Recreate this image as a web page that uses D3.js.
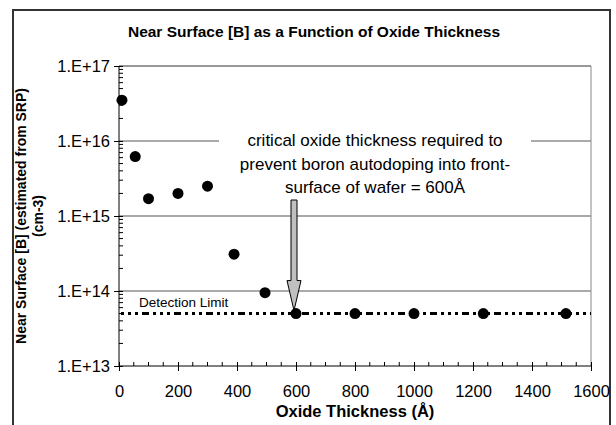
<!DOCTYPE html>
<html>
<head>
<meta charset="utf-8">
<script src="https://cdn.jsdelivr.net/npm/d3@7"></script>
<style>
  body { margin: 0; background: #fff; }
  svg { display: block; font-family: Arial, "Liberation Sans", sans-serif; }
</style>
</head>
<body>
<svg id="chart" width="616" height="425"></svg>
<script>
// data
const thickness = [10, 55, 100, 200, 300, 390, 495, 600, 800, 1000, 1235, 1515];
const boron = [3.5e16, 6.2e15, 1.7e15, 2.0e15, 2.5e15, 3.1e14, 9.5e13, 5e13, 5e13, 5e13, 5e13, 5e13];
const detectionLimit = 5e13;
const criticalThickness = 600;
const xTicks = [0, 200, 400, 600, 800, 1000, 1200, 1400, 1600];
const yTicks = [1e13, 1e14, 1e15, 1e16, 1e17];
const yTickLabels = ["1.E+13", "1.E+14", "1.E+15", "1.E+16", "1.E+17"];
const noteLines = ["critical oxide thickness required to", "prevent boron autodoping into front-", "surface of wafer = 600\u00C5"];

const svg = d3.select("#chart");
const plotL = 119, plotR = 591, plotT = 66, plotB = 366;

// outer frame
svg.append("rect").attr("x", 13).attr("y", 10).attr("width", 597).attr("height", 430)
  .attr("fill", "none").attr("stroke", "#333").attr("stroke-width", 2);

const x = d3.scaleLinear().domain([0, 1600]).range([plotL, plotR]);
const y = d3.scaleLog().domain([1e13, 1e17]).range([plotB, plotT]);

// gridlines
svg.append("g").selectAll("line").data(yTicks.slice(1)).join("line")
  .attr("x1", plotL).attr("x2", plotR)
  .attr("y1", d => y(d)).attr("y2", d => y(d))
  .attr("stroke", "#555").attr("stroke-width", 1);

// plot frame right/top
svg.append("path")
  .attr("d", `M${plotL},${plotT}H${plotR}V${plotB}`)
  .attr("fill", "none").attr("stroke", "#888").attr("stroke-width", 1);

// y axis minor ticks (inside)
const minor = [];
for (let e = 13; e < 17; e++) for (let m = 2; m <= 9; m++) minor.push(m * Math.pow(10, e));
svg.append("g").selectAll("line").data(minor).join("line")
  .attr("x1", plotL).attr("x2", plotL + 4)
  .attr("y1", d => y(d)).attr("y2", d => y(d))
  .attr("stroke", "#000");

// x axis minor ticks (inside)
svg.append("g").selectAll("line").data(d3.range(50, 1600, 50).filter(v => v % 200)).join("line")
  .attr("x1", d => x(d)).attr("x2", d => x(d))
  .attr("y1", plotB).attr("y2", plotB - 4)
  .attr("stroke", "#000");

const yAxis = svg.append("g").attr("transform", `translate(${plotL},0)`)
  .call(d3.axisLeft(y).tickValues(yTicks).tickSize(5).tickPadding(4)
    .tickFormat((d, i) => yTickLabels[i]));
yAxis.selectAll(".tick line").attr("x2", -5).attr("x1", 4);
yAxis.select(".domain").attr("d", `M0,${plotT}V${plotB}`);

const xAxis = svg.append("g").attr("transform", `translate(0,${plotB})`)
  .call(d3.axisBottom(x).tickValues(xTicks).tickSize(5).tickPadding(14)
    .tickFormat(d3.format("d")));
xAxis.selectAll(".tick line").attr("y1", -4);
xAxis.select(".domain").attr("d", `M${plotL},0H${plotR}`);

svg.selectAll(".domain").attr("stroke", "#000");
svg.selectAll(".tick line").attr("stroke", "#000");
svg.selectAll(".tick text").attr("font-size", 16.5).attr("fill", "#000")
  .attr("font-family", "Arial, 'Liberation Sans', sans-serif");

// detection limit line
svg.append("line")
  .attr("x1", plotL + 2).attr("x2", plotR)
  .attr("y1", y(detectionLimit)).attr("y2", y(detectionLimit))
  .attr("stroke", "#000").attr("stroke-width", 3)
  .attr("stroke-dasharray", "3,4,3,4,3,4,7,4");
svg.append("text").attr("x", 139).attr("y", y(detectionLimit) - 7)
  .attr("font-size", 13.5).text("Detection Limit");

// note box (white background hides gridline)
const cx = 375;
svg.append("rect").attr("x", 219).attr("y", 126).attr("width", 312).attr("height", 74)
  .attr("fill", "#fff");
svg.append("g").selectAll("text").data(noteLines).join("text")
  .attr("x", cx).attr("y", (d, i) => 146 + i * 23.5)
  .attr("text-anchor", "middle").attr("font-size", 17).text(d => d);

// arrow
const ax = x(criticalThickness) - 2, aTop = 200, aTip = y(detectionLimit) - 3;
svg.append("path")
  .attr("d", `M${ax - 3},${aTop}H${ax + 3}V${aTip - 30}H${ax + 7}L${ax},${aTip}L${ax - 7},${aTip - 30}H${ax - 3}Z`)
  .attr("fill", "#c0c0c0").attr("stroke", "#000").attr("stroke-width", 1);

// points
svg.append("g").selectAll("circle").data(thickness).join("circle")
  .attr("cx", d => x(d)).attr("cy", (d, i) => y(boron[i])).attr("r", 5.5)
  .attr("fill", "#000");

// titles
svg.append("text").attr("x", 314).attr("y", 37).attr("text-anchor", "middle")
  .attr("font-size", 15.5).attr("font-weight", "bold")
  .text("Near Surface [B] as a Function of Oxide Thickness");
svg.append("text").attr("x", (plotL + plotR) / 2).attr("y", 417).attr("text-anchor", "middle")
  .attr("font-size", 16.5).attr("font-weight", "bold").text("Oxide Thickness (\u00C5)");
const yt = svg.append("text").attr("transform", `translate(26,${(plotT + plotB) / 2}) rotate(-90)`)
  .attr("text-anchor", "middle").attr("font-size", 14).attr("font-weight", "bold");
yt.append("tspan").attr("x", 0).attr("dy", 0).text("Near Surface [B] (estimated from SRP)");
yt.append("tspan").attr("x", 0).attr("dy", 16.5).text("(cm-3)");
</script>
</body>
</html>
